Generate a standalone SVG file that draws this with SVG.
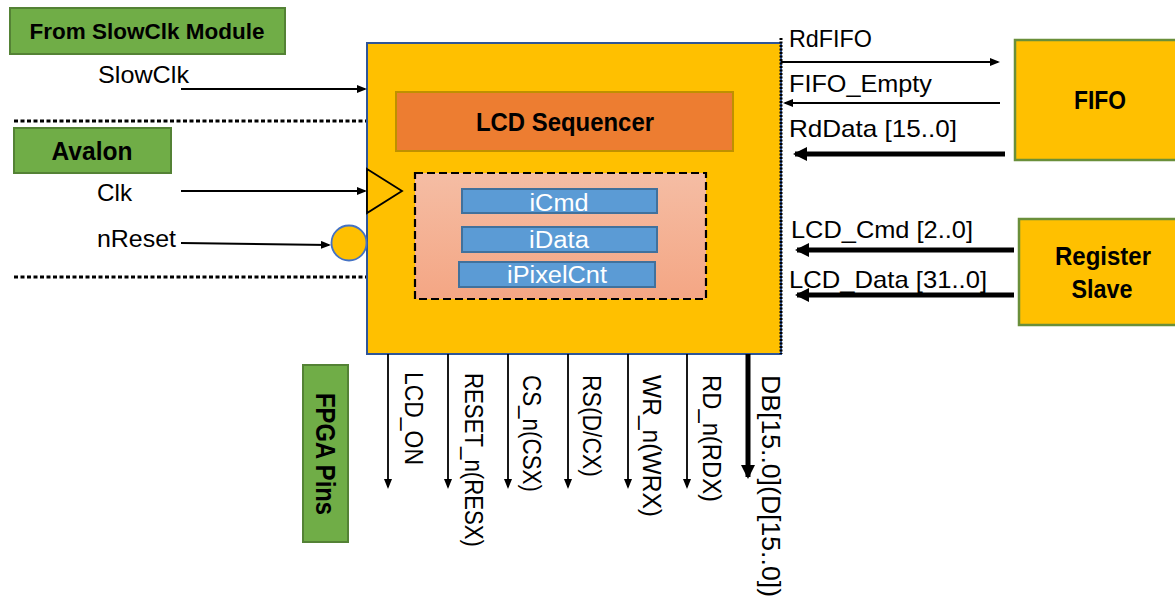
<svg xmlns="http://www.w3.org/2000/svg" width="1175" height="596" viewBox="0 0 1175 596">
  <style>
    .lbl { font-family: "Liberation Sans", Arial, sans-serif; font-size: 24px; fill: #000; }
    .vlbl { font-family: "Liberation Sans", Arial, sans-serif; font-size: 26px; fill: #000; }
    .bold { font-family: "Liberation Sans", Arial, sans-serif; font-weight: bold; fill: #000; }
    .reg { font-family: "Liberation Sans", Arial, sans-serif; font-size: 23px; fill: #fff; text-anchor: middle; }
    .green { fill: #70AD47; stroke: #548235; stroke-width: 2; }
    .ext { fill: #FFC000; stroke: #6A8F3A; stroke-width: 2.5; }
    .sig { fill: none; stroke: #000; stroke-width: 1.8; }
    .bus { fill: none; stroke: #000; stroke-width: 5; }
    .sep { fill: none; stroke: #000; stroke-width: 3; stroke-dasharray: 4 2.5; }
    .reg-box { fill: #5B9BD5; stroke: #41719C; stroke-width: 2; }
  </style>
  <defs>
    <marker id="ah" viewBox="0 0 10 8" refX="8" refY="4" markerWidth="10" markerHeight="8" markerUnits="userSpaceOnUse" orient="auto">
      <path d="M0,0 L10,4 L0,8 z" fill="#000"/>
    </marker>
    <marker id="ahb" viewBox="0 0 14 14" refX="12" refY="7" markerWidth="14" markerHeight="14" markerUnits="userSpaceOnUse" orient="auto">
      <path d="M0,0 L14,7 L0,14 z" fill="#000"/>
    </marker>
    <linearGradient id="regsFill" x1="0" y1="0" x2="0" y2="1">
      <stop offset="0" stop-color="#F5BDA4"/>
      <stop offset="1" stop-color="#F4A684"/>
    </linearGradient>
  </defs>

  <!-- interface group labels -->
  <g id="from-slowclk">
    <rect class="green" x="10" y="8" width="275" height="46"/>
    <text class="bold" x="147" y="39" font-size="22" text-anchor="middle" textLength="235" lengthAdjust="spacingAndGlyphs">From SlowClk Module</text>
  </g>
  <g id="avalon">
    <rect class="green" x="14" y="128" width="157" height="45"/>
    <text class="bold" x="92" y="160" font-size="25" text-anchor="middle" textLength="81" lengthAdjust="spacingAndGlyphs">Avalon</text>
  </g>
  <g id="fpga-pins">
    <rect class="green" x="303" y="365" width="45" height="177"/>
    <text class="bold" transform="translate(316,454) rotate(90)" x="0" y="0" font-size="27" text-anchor="middle" textLength="122" lengthAdjust="spacingAndGlyphs">FPGA Pins</text>
  </g>

  <!-- section separators -->
  <g id="separators">
    <path class="sep" d="M14,121 H367"/>
    <path class="sep" d="M14,277 H367"/>
  </g>

  <!-- LCD controller block -->
  <g id="lcd-controller">
    <rect x="367" y="43" width="414" height="311" fill="#FFC000" stroke="#2F5597" stroke-width="2"/>
    <path d="M781,38 V354" stroke="#000" stroke-width="3" stroke-dasharray="2 1.5" fill="none"/>
    <polygon points="367,169 402,191 367,213" fill="#FFC000" stroke="#000" stroke-width="1.8"/>
    <circle cx="349" cy="243" r="17.5" fill="#FFC000" stroke="#4472C4" stroke-width="1.8"/>
  </g>
  <g id="lcd-sequencer">
    <rect x="396" y="92" width="337" height="59" fill="#ED7D31" stroke="#BF9000" stroke-width="2"/>
    <text class="bold" x="565" y="131" font-size="25" text-anchor="middle" textLength="178" lengthAdjust="spacingAndGlyphs">LCD Sequencer</text>
  </g>
  <g id="registers">
    <rect x="415" y="173" width="291" height="126" fill="url(#regsFill)" stroke="#000" stroke-width="2.2" stroke-dasharray="8 4"/>
  </g>
  <g id="icmd">
    <rect class="reg-box" x="462" y="189" width="195" height="24"/>
    <text class="reg" x="559" y="211" textLength="59" lengthAdjust="spacingAndGlyphs">iCmd</text>
  </g>
  <g id="idata">
    <rect class="reg-box" x="462" y="227" width="195" height="25"/>
    <text class="reg" x="559" y="248" textLength="60" lengthAdjust="spacingAndGlyphs">iData</text>
  </g>
  <g id="ipixelcnt">
    <rect class="reg-box" x="459" y="262" width="196" height="25"/>
    <text class="reg" x="557" y="283" textLength="100" lengthAdjust="spacingAndGlyphs">iPixelCnt</text>
  </g>

  <!-- external blocks -->
  <g id="fifo">
    <rect class="ext" x="1015" y="40" width="170" height="120"/>
    <text class="bold" x="1100" y="109" font-size="25" text-anchor="middle" textLength="52" lengthAdjust="spacingAndGlyphs">FIFO</text>
  </g>
  <g id="register-slave">
    <rect class="ext" x="1019" y="219" width="166" height="106"/>
    <text class="bold" x="1103" y="265" font-size="25" text-anchor="middle" textLength="96" lengthAdjust="spacingAndGlyphs">Register</text>
    <text class="bold" x="1102" y="298" font-size="25" text-anchor="middle" textLength="61" lengthAdjust="spacingAndGlyphs">Slave</text>
  </g>

  <!-- signal connectors -->
  <g id="connectors">
    <path class="sig" d="M181,89 H365" marker-end="url(#ah)"/>
    <path class="sig" d="M181,191 H365" marker-end="url(#ah)"/>
    <path class="sig" d="M181,243 L329,245" marker-end="url(#ah)"/>

    <path class="sig" d="M781,62 H998" marker-end="url(#ah)"/>
    <path class="sig" d="M1000,103 H785" marker-end="url(#ah)"/>
    <path class="bus" d="M1005,154 H795" marker-end="url(#ahb)"/>
    <path class="bus" d="M1014,250 H797" marker-end="url(#ahb)"/>
    <path class="bus" d="M1014,295 H797" marker-end="url(#ahb)"/>

    <path class="sig" d="M388,354 V487" marker-end="url(#ah)"/>
    <path class="sig" d="M448,354 V487" marker-end="url(#ah)"/>
    <path class="sig" d="M508,354 V487" marker-end="url(#ah)"/>
    <path class="sig" d="M568,354 V487" marker-end="url(#ah)"/>
    <path class="sig" d="M628,354 V487" marker-end="url(#ah)"/>
    <path class="sig" d="M687,354 V487" marker-end="url(#ah)"/>
    <path class="bus" d="M748,354 V477" marker-end="url(#ahb)"/>
  </g>

  <!-- signal names -->
  <g id="signal-labels">
    <text class="lbl" x="98" y="83" textLength="91" lengthAdjust="spacingAndGlyphs">SlowClk</text>
    <text class="lbl" x="97" y="201" textLength="35" lengthAdjust="spacingAndGlyphs">Clk</text>
    <text class="lbl" x="97" y="247" textLength="79" lengthAdjust="spacingAndGlyphs">nReset</text>

    <text class="lbl" x="789" y="47" textLength="83" lengthAdjust="spacingAndGlyphs">RdFIFO</text>
    <text class="lbl" x="789" y="92" textLength="143" lengthAdjust="spacingAndGlyphs">FIFO_Empty</text>
    <text class="lbl" x="789" y="137" textLength="168" lengthAdjust="spacingAndGlyphs">RdData [15..0]</text>
    <text class="lbl" x="791" y="238" textLength="182" lengthAdjust="spacingAndGlyphs">LCD_Cmd [2..0]</text>
    <text class="lbl" x="789" y="288" textLength="198" lengthAdjust="spacingAndGlyphs">LCD_Data [31..0]</text>

    <text class="vlbl" transform="translate(405,372) rotate(90)" textLength="93" lengthAdjust="spacingAndGlyphs">LCD_ON</text>
    <text class="vlbl" transform="translate(465,373) rotate(90)" textLength="174" lengthAdjust="spacingAndGlyphs">RESET_n(RESX)</text>
    <text class="vlbl" transform="translate(523,375) rotate(90)" textLength="117" lengthAdjust="spacingAndGlyphs">CS_n(CSX)</text>
    <text class="vlbl" transform="translate(583,375) rotate(90)" textLength="102" lengthAdjust="spacingAndGlyphs">RS(D/CX)</text>
    <text class="vlbl" transform="translate(643,375) rotate(90)" textLength="142" lengthAdjust="spacingAndGlyphs">WR_n(WRX)</text>
    <text class="vlbl" transform="translate(703,375) rotate(90)" textLength="127" lengthAdjust="spacingAndGlyphs">RD_n(RDX)</text>
    <text class="vlbl" transform="translate(762,375) rotate(90)" textLength="222" lengthAdjust="spacingAndGlyphs">DB[15..0](D[15..0])</text>
  </g>
</svg>
